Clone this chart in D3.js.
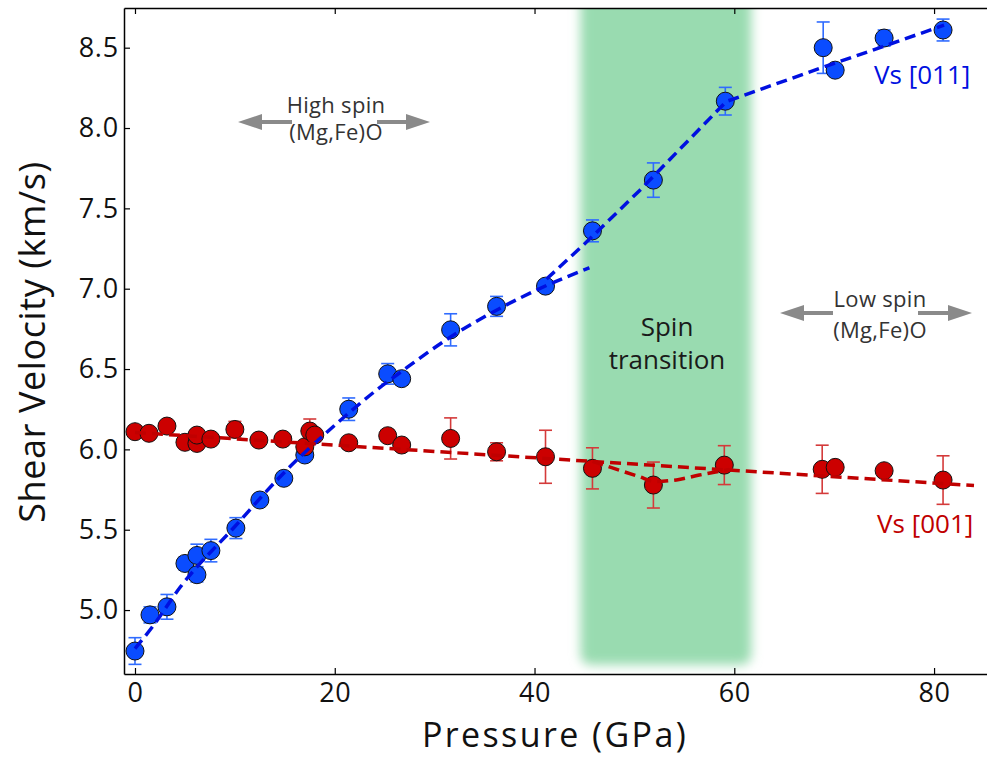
<!DOCTYPE html>
<html>
<head>
<meta charset="utf-8">
<script src="https://cdn.jsdelivr.net/npm/d3@7"></script>
<style>
  body { margin: 0; background: #fff; }
  svg text { font-family: "Open Sans", sans-serif; }
</style>
</head>
<body>
<div id="chart"></div>
<script>
// Chart size
const width = 987;
const height = 758;

// Vs [011] measurements (pressure GPa, velocity km/s, error)
const blueP = [0, 1.5, 3.2, 5.0, 6.2, 6.2, 7.6, 10.1, 12.5, 14.9, 17.0, 21.4, 25.3, 26.7, 31.6, 36.2, 41.1, 45.8, 51.9, 59.1, 68.9, 70.1, 75.0, 80.9];
const blueV = [4.745, 4.97, 5.02, 5.29, 5.22, 5.34, 5.37, 5.51, 5.685, 5.82, 5.965, 6.25, 6.47, 6.44, 6.744, 6.89, 7.016, 7.36, 7.676, 8.167, 8.50, 8.36, 8.56, 8.61];
const blueErr = [0.083, 0.05, 0.077, 0.04, 0.045, 0.07, 0.07, 0.065, 0.02, 0.02, 0.03, 0.07, 0.064, 0.04, 0.1, 0.062, 0.02, 0.068, 0.107, 0.086, 0.16, 0.02, 0.05, 0.068];

// Vs [001] measurements
const redP = [0, 1.4, 3.2, 5.0, 6.2, 6.2, 7.6, 10.0, 12.4, 14.8, 17.0, 17.5, 18.0, 21.4, 25.3, 26.7, 31.6, 36.2, 41.1, 45.8, 51.9, 59.0, 68.8, 70.1, 75.0, 80.9];
const redV = [6.11, 6.10, 6.145, 6.044, 6.037, 6.089, 6.064, 6.124, 6.058, 6.064, 6.016, 6.114, 6.089, 6.041, 6.085, 6.027, 6.068, 5.985, 5.954, 5.882, 5.778, 5.902, 5.876, 5.888, 5.867, 5.809];
const redErr = [0.02, 0.02, 0.03, 0.02, 0.02, 0.02, 0.02, 0.05, 0.02, 0.02, 0.02, 0.075, 0.02, 0.02, 0.02, 0.02, 0.128, 0.056, 0.165, 0.128, 0.143, 0.121, 0.15, 0.02, 0.02, 0.151];

// Dashed fit lines
const blueLowFitP = [0, 1.8, 4.5, 10, 15, 20, 24.2, 26.8, 31.6, 36, 41.2, 45.5];
const blueLowFitV = [4.76, 4.90, 5.14, 5.52, 5.86, 6.15, 6.37, 6.49, 6.70, 6.86, 7.02, 7.13];
const blueHighFitP = [41.2, 45.2, 50.5, 59.2, 68.5, 74.8, 81];
const blueHighFitV = [7.06, 7.29, 7.61, 8.165, 8.37, 8.505, 8.64];
const redFitP = [0, 84];
const redFitV = [6.105, 5.775];
const redDipP = [45.8, 50.5, 52, 54.2, 56.5, 59.5];
const redDipV = [5.925, 5.83, 5.80, 5.81, 5.84, 5.875];

// Axis ticks and shaded spin-transition range
const xTicks = [0, 20, 40, 60, 80];
const yTicks = [5.0, 5.5, 6.0, 6.5, 7.0, 7.5, 8.0, 8.5];
const spinRange = [44.6, 61.7];

const plot = { left: 124, top: 8, right: 987, bottom: 674 };

const x = d3.scaleLinear().domain([-1.1, 85.3]).range([plot.left, plot.right]);
const y = d3.scaleLinear().domain([4.602, 8.747]).range([plot.bottom, plot.top]);

const svg = d3.select("#chart")
  .append("svg")
    .attr("width", width)
    .attr("height", height);

const defs = svg.append("defs");
defs.append("clipPath").attr("id", "plot-clip")
  .append("rect")
    .attr("x", plot.left).attr("y", plot.top)
    .attr("width", plot.right - plot.left).attr("height", plot.bottom - plot.top);
defs.append("filter").attr("id", "soft")
    .attr("x", "-20%").attr("y", "-20%").attr("width", "140%").attr("height", "140%")
  .append("feGaussianBlur").attr("stdDeviation", 5.5);

// Spin transition band
svg.append("g").attr("clip-path", "url(#plot-clip)")
  .append("rect")
    .attr("x", x(spinRange[0]))
    .attr("y", plot.top - 30)
    .attr("width", x(spinRange[1]) - x(spinRange[0]))
    .attr("height", y(4.66) - plot.top + 30)
    .attr("rx", 10)
    .attr("fill", "#99dbb0")
    .attr("filter", "url(#soft)");

// Axes (ticks point inward)
const axisStyle = g => {
  g.select(".domain").attr("stroke", "#000").attr("stroke-width", 1.5);
  g.selectAll(".tick line").attr("stroke", "#000").attr("stroke-width", 1.2);
};

svg.append("g")
  .attr("transform", `translate(0,${plot.bottom})`)
  .call(d3.axisBottom(x).tickValues(xTicks).tickSizeInner(-6).tickSizeOuter(0).tickPadding(9).tickFormat(d3.format("d")))
  .call(axisStyle)
  .call(g => g.selectAll(".tick text").attr("font-size", 27).attr("fill", "#111").attr("letter-spacing", 0.5));

svg.append("g")
  .attr("transform", `translate(0,${plot.top})`)
  .call(d3.axisTop(x).tickValues(xTicks).tickSizeInner(-6).tickSizeOuter(0).tickFormat(""))
  .call(axisStyle);

svg.append("g")
  .attr("transform", `translate(${plot.left},0)`)
  .call(d3.axisLeft(y).tickValues(yTicks).tickSizeInner(-6).tickSizeOuter(0).tickPadding(5).tickFormat(d3.format(".1f")))
  .call(axisStyle)
  .call(g => g.selectAll(".tick text").attr("font-size", 27).attr("fill", "#111").attr("letter-spacing", 0.8));

// Axis titles
svg.append("text")
  .attr("x", 555).attr("y", 747)
  .attr("text-anchor", "middle")
  .attr("font-size", 34)
  .attr("letter-spacing", 2.4)
  .attr("fill", "#111")
  .text("Pressure (GPa)");

svg.append("text")
  .attr("transform", "translate(45,342) rotate(-90)")
  .attr("text-anchor", "middle")
  .attr("font-size", 36)
  .attr("letter-spacing", 0.6)
  .attr("fill", "#111")
  .text("Shear Velocity (km/s)");

// Draw a series: error bars, markers
function drawSeries(P, V, E, fill, barColor) {
  const g = svg.append("g");
  const data = P.map((p, i) => ({ p, v: V[i], e: E[i] }));
  const cap = 6.5;
  data.forEach(d => {
    g.append("line")
      .attr("x1", x(d.p)).attr("x2", x(d.p))
      .attr("y1", y(d.v - d.e)).attr("y2", y(d.v + d.e))
      .attr("stroke", barColor).attr("stroke-width", 1.6);
    [d.v - d.e, d.v + d.e].forEach(t => {
      g.append("line")
        .attr("x1", x(d.p) - cap).attr("x2", x(d.p) + cap)
        .attr("y1", y(t)).attr("y2", y(t))
        .attr("stroke", barColor).attr("stroke-width", 1.6);
    });
  });
  g.selectAll("circle")
    .data(data)
    .enter()
    .append("circle")
      .attr("cx", d => x(d.p))
      .attr("cy", d => y(d.v))
      .attr("r", 9)
      .attr("fill", fill)
      .attr("stroke", "#111")
      .attr("stroke-width", 1);
}

drawSeries(blueP, blueV, blueErr, "#0a4cff", "#2f6bff");
drawSeries(redP, redV, redErr, "#cc0000", "#d43a3a");

// Dashed fit lines
function drawFit(P, V, color, curve) {
  const line = d3.line()
    .x((d, i) => x(P[i]))
    .y((d, i) => y(V[i]))
    .curve(curve);
  svg.append("path")
    .attr("d", line(P))
    .attr("fill", "none")
    .attr("stroke", color)
    .attr("stroke-width", 3.5)
    .attr("stroke-dasharray", "11,6");
}

drawFit(blueLowFitP, blueLowFitV, "#0010e0", d3.curveMonotoneX);
drawFit(blueHighFitP, blueHighFitV, "#0010e0", d3.curveLinear);
drawFit(redFitP, redFitV, "#c00000", d3.curveLinear);
drawFit(redDipP, redDipV, "#c00000", d3.curveMonotoneX);

// Series labels
svg.append("text")
  .attr("x", 874).attr("y", 84)
  .attr("font-family", "Liberation Sans, Arial, sans-serif")
  .attr("font-size", 26)
  .attr("fill", "#0010e0")
  .text("Vs [011]");

svg.append("text")
  .attr("x", 877).attr("y", 533)
  .attr("font-family", "Liberation Sans, Arial, sans-serif")
  .attr("font-size", 26)
  .attr("fill", "#c00000")
  .text("Vs [001]");

// Spin transition label
const spinLabel = svg.append("text")
  .attr("text-anchor", "middle")
  .attr("font-size", 26)
  .attr("fill", "#1a1a1a");
spinLabel.append("tspan").attr("x", 667).attr("y", 336).text("Spin");
spinLabel.append("tspan").attr("x", 667).attr("y", 369).text("transition");

// Spin state annotations with grey arrows
function arrow(x1, x2, yy) {
  const dir = Math.sign(x2 - x1);
  const head = 24;
  svg.append("line")
    .attr("x1", x1).attr("x2", x2 - dir * head)
    .attr("y1", yy).attr("y2", yy)
    .attr("stroke", "#8a8a8a").attr("stroke-width", 4);
  svg.append("path")
    .attr("d", `M${x2},${yy} L${x2 - dir * head},${yy - 8} L${x2 - dir * head},${yy + 8} Z`)
    .attr("fill", "#8a8a8a");
}

function spinNote(cx, y1, y2, ya, first, arrows) {
  const t = svg.append("text")
    .attr("text-anchor", "middle")
    .attr("font-size", 22)
    .attr("letter-spacing", 0.3)
    .attr("fill", "#333");
  t.append("tspan").attr("x", cx).attr("y", y1).text(first);
  t.append("tspan").attr("x", cx).attr("y", y2).text("(Mg,Fe)O");
  arrow(arrows[0], arrows[1], ya);
  arrow(arrows[2], arrows[3], ya);
}

spinNote(336, 113, 140, 122, "High spin", [292, 238, 377, 430]);
spinNote(880, 307, 338, 313, "Low spin", [833, 780, 918, 972]);
</script>
</body>
</html>
